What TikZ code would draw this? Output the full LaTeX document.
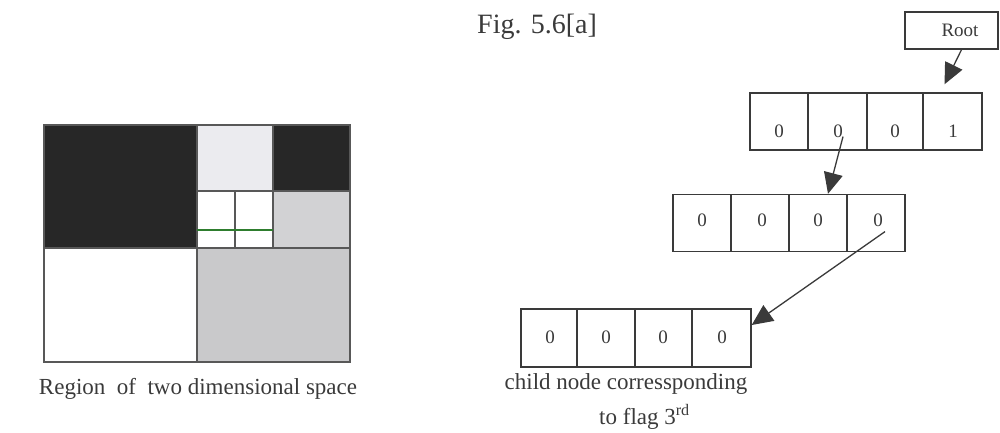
\documentclass[tikz,border=0pt]{standalone}
\usepackage{fontspec}
\setmainfont{Liberation Serif}
\usetikzlibrary{arrows.meta,calc}
\definecolor{ink}{HTML}{3A3A3A}
\definecolor{darkfill}{HTML}{272727}
\definecolor{lightfill}{HTML}{EBEBEF}
\definecolor{grayfill}{HTML}{C9C9CB}
\definecolor{grayfillb}{HTML}{D2D2D4}
\definecolor{gline}{HTML}{2E7D2E}
\begin{document}
\begin{tikzpicture}[x=1pt,y=-1pt,
  cell/.style={draw=ink,line width=1.4pt,minimum width=58pt,minimum height=57pt,inner sep=0pt},
  digit/.style={text=ink,font=\fontsize{19}{20}\selectfont,inner sep=0pt},
  arr/.style={draw=ink,line width=1.3pt,-{Triangle[length=21pt,width=19pt]}},
  grid/.style={draw=ink!85,line width=1.4pt},
  captxt/.style={text=ink,inner sep=0pt}]
\useasboundingbox (0,0) rectangle (1000,433);
% ---- left region
\fill[darkfill] (44,125) rectangle (197,248);
\fill[darkfill] (273,125) rectangle (350,191);
\fill[lightfill] (197,125) rectangle (273,191);
\fill[grayfillb] (273,191) rectangle (350,248);
\fill[grayfill] (197,248) rectangle (350,362);
\draw[grid] (44,125) rectangle (350,362);
\draw[grid] (197,125) -- (197,362);
\draw[grid] (44,248) -- (350,248);
\draw[grid] (273,125) -- (273,248);
\draw[grid] (197,191) -- (350,191);
\draw[grid] (235,191) -- (235,248);
\draw[draw=gline,line width=1.6pt] (197,230) -- (273,230);
\node[captxt,font=\fontsize{23}{25}\selectfont] (regcap) at (198,389) {Region\ \ of\ \ two dimensional space};
% ---- right: title
\node[captxt,anchor=west,font=\fontsize{28}{30}\selectfont] (fig) at (477,27) {Fig. 5.6[a]};
% root
\node[draw=ink,line width=1.4pt,minimum width=93pt,minimum height=37pt,inner sep=0pt] (root) at (951.5,30.5) {};
\node[captxt,font=\fontsize{19}{20}\selectfont] (roottxt) at (960,30) {Root};
% row 1
\node[cell] (r1c1) at (779,121.5) {};
\node[cell,minimum width=59pt] (r1c2) at (837.5,121.5) {};
\node[cell,minimum width=56pt] (r1c3) at (895,121.5) {};
\node[cell,minimum width=59pt] (r1c4) at (952.5,121.5) {};
\node[digit] (d11) at (779,131) {0};
\node[digit] (d12) at (838,131) {0};
\node[digit] (d13) at (895,131) {0};
\node[digit] (d14) at (953,131) {1};
% row 2
\node[cell] (r2c1) at (702,223) {};
\node[cell] (r2c2) at (760,223) {};
\node[cell] (r2c3) at (818,223) {};
\node[cell] (r2c4) at (876,223) {};
\node[digit] (d21) at (702,220) {0};
\node[digit] (d22) at (762,220) {0};
\node[digit] (d23) at (818,220) {0};
\node[digit] (d24) at (878,220) {0};
% row 3
\node[cell,minimum height=58pt,minimum width=56pt] (r3c1) at (549,338) {};
\node[cell,minimum height=58pt] (r3c2) at (606,338) {};
\node[cell,minimum height=58pt,minimum width=57pt] (r3c3) at (663.5,338) {};
\node[cell,minimum height=58pt,minimum width=59pt] (r3c4) at (721.5,338) {};
\node[digit] (d31) at (550,337) {0};
\node[digit] (d32) at (606,337) {0};
\node[digit] (d33) at (663,337) {0};
\node[digit] (d34) at (722,337) {0};
\node[captxt,font=\fontsize{23}{25}\selectfont] (cap1) at (626,384) {child node corressponding};
\node[captxt,anchor=west,font=\fontsize{23}{25}\selectfont] (cap2) at (599,417) {to flag 3\textsuperscript{rd}};
% arrows
\coordinate (rootend) at ([xshift=-8pt,yshift=8pt]r1c4.north);
\draw[arr] ([xshift=10pt]root.south) -- (rootend);
\draw[arr] ([xshift=5pt,yshift=1pt]d12.south) -- ([xshift=10pt]r2c3.north);
\draw[arr] ([xshift=7pt,yshift=-5pt]d24.south) -- ([yshift=13pt]r3c4.east);
\end{tikzpicture}
\end{document}
